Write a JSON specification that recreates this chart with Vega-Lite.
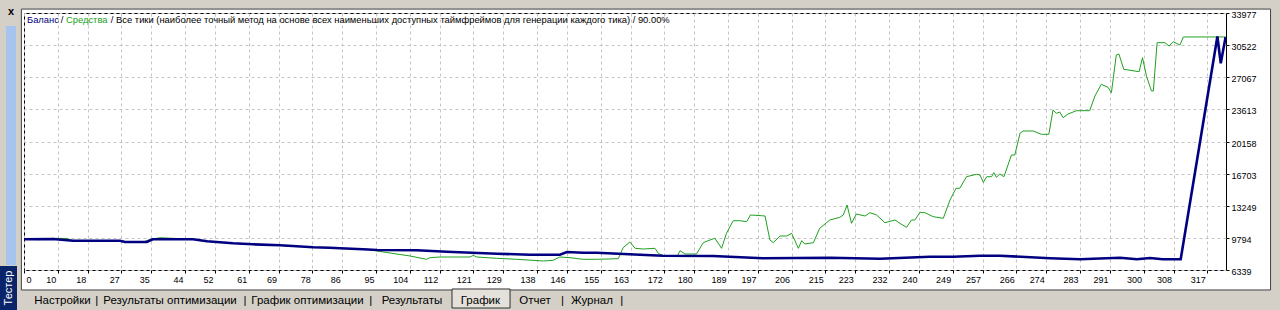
{
  "$schema": "https://vega.github.io/schema/vega-lite/v6.json",
  "width": 1202,
  "height": 257,
  "autosize": "none",
  "padding": {"left": 24, "top": 13, "right": 54, "bottom": 40},
  "background": "white",
  "config": {
    "view": {"stroke": "black", "strokeWidth": 1, "fill": "white"},
    "axis": {
      "labelFont": "Liberation Sans",
      "labelFontSize": 9,
      "labelColor": "black",
      "tickColor": "black",
      "tickSize": 3,
      "domain": false,
      "grid": true,
      "gridColor": "#c4c4c4",
      "gridDash": [3, 3],
      "title": null,
      "labelOverlap": false
    },
    "text": {"font": "Liberation Sans"}
  },
  "datasets": {
    "balance": [
      {"trade": 1, "value": 9640}, {"trade": 8.7, "value": 9673}, {"trade": 14.1, "value": 9490}, {"trade": 26.6, "value": 9490},
      {"trade": 28, "value": 9350}, {"trade": 33.8, "value": 9350}, {"trade": 35.4, "value": 9640}, {"trade": 46.1, "value": 9640},
      {"trade": 49.9, "value": 9425}, {"trade": 56.8, "value": 9210}, {"trade": 62.1, "value": 9103}, {"trade": 69.4, "value": 8995},
      {"trade": 78.2, "value": 8780}, {"trade": 82.7, "value": 8737}, {"trade": 85.4, "value": 8673}, {"trade": 91.5, "value": 8565},
      {"trade": 95.3, "value": 8490}, {"trade": 105.9, "value": 8458}, {"trade": 113.9, "value": 8307}, {"trade": 127.3, "value": 8092},
      {"trade": 136.1, "value": 7984}, {"trade": 144.1, "value": 7984}, {"trade": 146, "value": 8275}, {"trade": 150.3, "value": 8200},
      {"trade": 154, "value": 8200}, {"trade": 165.5, "value": 7984}, {"trade": 171.6, "value": 7877}, {"trade": 185, "value": 7845},
      {"trade": 198.3, "value": 7597}, {"trade": 207.4, "value": 7630}, {"trade": 216.2, "value": 7662}, {"trade": 229.6, "value": 7554},
      {"trade": 242.9, "value": 7769}, {"trade": 249.1, "value": 7769}, {"trade": 256.3, "value": 7877}, {"trade": 261.6, "value": 7877},
      {"trade": 275, "value": 7597}, {"trade": 283, "value": 7490}, {"trade": 293.7, "value": 7662}, {"trade": 298.2, "value": 7490},
      {"trade": 301.7, "value": 7630}, {"trade": 305.1, "value": 7490}, {"trade": 309.9, "value": 7490}, {"trade": 319.7, "value": 31450},
      {"trade": 320.6, "value": 28570}, {"trade": 321.9, "value": 31400}
    ],
    "equity": [
      {"trade": 1, "value": 9640}, {"trade": 5.3, "value": 9600}, {"trade": 8.7, "value": 9748}, {"trade": 12.5, "value": 9726},
      {"trade": 14.1, "value": 9490}, {"trade": 26.6, "value": 9490}, {"trade": 28, "value": 9350}, {"trade": 32.8, "value": 9350},
      {"trade": 34.6, "value": 9619}, {"trade": 37.3, "value": 9812}, {"trade": 46.1, "value": 9640}, {"trade": 49.9, "value": 9425},
      {"trade": 56.8, "value": 9210}, {"trade": 62.1, "value": 9103}, {"trade": 69.4, "value": 8995}, {"trade": 70.7, "value": 8920},
      {"trade": 73.4, "value": 8920}, {"trade": 78.2, "value": 8780}, {"trade": 85.4, "value": 8673}, {"trade": 93.4, "value": 8544},
      {"trade": 95.2, "value": 8383}, {"trade": 104.1, "value": 7845}, {"trade": 108.5, "value": 7490}, {"trade": 109.4, "value": 7662},
      {"trade": 112.1, "value": 7737}, {"trade": 120.1, "value": 7737}, {"trade": 121, "value": 7920}, {"trade": 121.9, "value": 7737},
      {"trade": 127.2, "value": 7597}, {"trade": 132.6, "value": 7490}, {"trade": 139.7, "value": 7307}, {"trade": 142.3, "value": 7382},
      {"trade": 144.1, "value": 7737}, {"trade": 146.8, "value": 7662}, {"trade": 150.3, "value": 7490}, {"trade": 153.9, "value": 7490},
      {"trade": 159.7, "value": 7554}, {"trade": 161, "value": 8737}, {"trade": 162.8, "value": 9350}, {"trade": 164.2, "value": 8673},
      {"trade": 166.4, "value": 8597}, {"trade": 169.5, "value": 8673}, {"trade": 170.4, "value": 8135}, {"trade": 171.6, "value": 7877},
      {"trade": 173.5, "value": 7898}, {"trade": 175.4, "value": 7790}, {"trade": 176.2, "value": 8415}, {"trade": 177.5, "value": 8060},
      {"trade": 180.6, "value": 8060}, {"trade": 182.4, "value": 9275}, {"trade": 184.2, "value": 9565}, {"trade": 185.5, "value": 9748},
      {"trade": 187.3, "value": 8673}, {"trade": 188.6, "value": 10286}, {"trade": 190.4, "value": 11641}, {"trade": 192.2, "value": 11641},
      {"trade": 194, "value": 11533}, {"trade": 195, "value": 12254}, {"trade": 198, "value": 12178}, {"trade": 198.9, "value": 12146},
      {"trade": 200.2, "value": 9565}, {"trade": 201.1, "value": 9275}, {"trade": 202.9, "value": 9995}, {"trade": 204.7, "value": 9995},
      {"trade": 206, "value": 10286}, {"trade": 207.8, "value": 8673}, {"trade": 208.7, "value": 9490}, {"trade": 209.5, "value": 9135},
      {"trade": 211.8, "value": 9275}, {"trade": 213.5, "value": 10823}, {"trade": 216.2, "value": 11716}, {"trade": 218.9, "value": 12006},
      {"trade": 219.8, "value": 12254}, {"trade": 220.8, "value": 13329}, {"trade": 222, "value": 11361}, {"trade": 223.3, "value": 12361},
      {"trade": 225.6, "value": 12146}, {"trade": 226.9, "value": 12501}, {"trade": 228.7, "value": 12254}, {"trade": 230.9, "value": 11426},
      {"trade": 233.6, "value": 11716}, {"trade": 234.9, "value": 11361}, {"trade": 236.7, "value": 10931}, {"trade": 238, "value": 11716},
      {"trade": 238.9, "value": 11716}, {"trade": 240.3, "value": 12544}, {"trade": 241.6, "value": 12501}, {"trade": 243.8, "value": 12071},
      {"trade": 246.5, "value": 11899}, {"trade": 248.3, "value": 13867}, {"trade": 249.9, "value": 15125}, {"trade": 250.9, "value": 15125},
      {"trade": 252.7, "value": 16373}, {"trade": 255.4, "value": 16630}, {"trade": 256.3, "value": 16555}, {"trade": 257.2, "value": 15770},
      {"trade": 258.1, "value": 16373}, {"trade": 259.4, "value": 16373}, {"trade": 260, "value": 16803}, {"trade": 260.7, "value": 16308},
      {"trade": 261.6, "value": 16663}, {"trade": 262.7, "value": 16373}, {"trade": 264.7, "value": 18706}, {"trade": 265.6, "value": 18706},
      {"trade": 267, "value": 21040}, {"trade": 267.8, "value": 21287}, {"trade": 270.5, "value": 21287}, {"trade": 272.7, "value": 20932},
      {"trade": 274.7, "value": 20932}, {"trade": 275.8, "value": 23545}, {"trade": 276.7, "value": 23190}, {"trade": 277.6, "value": 23330},
      {"trade": 278.5, "value": 22717}, {"trade": 279.8, "value": 23115}, {"trade": 282.1, "value": 23470}, {"trade": 285.6, "value": 23470},
      {"trade": 287, "value": 25051}, {"trade": 288.7, "value": 26309}, {"trade": 290.5, "value": 25987}, {"trade": 291.4, "value": 25406},
      {"trade": 292.7, "value": 29460}, {"trade": 293.4, "value": 29568}, {"trade": 294.7, "value": 27922}, {"trade": 298.8, "value": 27664},
      {"trade": 299.7, "value": 29170}, {"trade": 300.8, "value": 27126}, {"trade": 302.1, "value": 25589}, {"trade": 302.6, "value": 25589},
      {"trade": 303.6, "value": 30783}, {"trade": 305.7, "value": 30783}, {"trade": 306.8, "value": 30428}, {"trade": 307.9, "value": 30890},
      {"trade": 309.7, "value": 30535}, {"trade": 310.6, "value": 31400}, {"trade": 321.9, "value": 31400}
    ]
  },
  "encoding": {
    "x": {
      "type": "quantitative",
      "scale": {"domain": [1, 322], "nice": false, "zero": false},
      "axis": {
        "orient": "bottom",
        "values": [1, 10, 18, 27, 35, 44, 52, 61, 69, 78, 86, 95, 104, 112, 121, 129, 138, 146, 155, 163, 172, 180, 189, 197, 206, 215, 223, 232, 240, 249, 257, 266, 274, 283, 291, 300, 308, 317],
        "labelExpr": "datum.value == 1 ? '0' : format(datum.value, 'd')",
        "labelFlush": false,
        "labelAlign": {"condition": {"test": "datum.value == 1", "value": "left"}, "value": "right"},
        "labelOffset": {"condition": {"test": "datum.value == 1", "value": 2}, "value": -2},
        "labelBaseline": "top",
        "labelPadding": 2
      }
    },
    "y": {
      "type": "quantitative",
      "scale": {"domain": [6339, 33977], "nice": false, "zero": false},
      "axis": {
        "orient": "right",
        "values": [6339, 9794, 13249, 16703, 20158, 23613, 27067, 30522, 33977],
        "format": "d",
        "labelAlign": "left",
        "labelBaseline": "middle",
        "labelOffset": 1.5,
        "labelPadding": 2,
        "labelFlush": false
      }
    }
  },
  "layer": [
    {
      "data": {"name": "equity"},
      "mark": {"type": "line", "color": "#20a020", "strokeWidth": 1, "clip": true},
      "encoding": {"x": {"field": "trade", "type": "quantitative"}, "y": {"field": "value", "type": "quantitative"}}
    },
    {
      "data": {"name": "balance"},
      "mark": {"type": "line", "color": "#000080", "strokeWidth": 2.6, "clip": true},
      "encoding": {"x": {"field": "trade", "type": "quantitative"}, "y": {"field": "value", "type": "quantitative"}}
    },
    {
      "data": {"values": [{}]},
      "mark": {"type": "text", "text": "Баланс", "color": "#000080", "fontSize": 9.4, "align": "left", "baseline": "middle"},
      "encoding": {"x": {"datum": 1.8}, "y": {"datum": 33224}}
    },
    {
      "data": {"values": [{}]},
      "mark": {"type": "text", "text": "/", "color": "black", "fontSize": 9.4, "align": "left", "baseline": "middle"},
      "encoding": {"x": {"datum": 10.8}, "y": {"datum": 33224}}
    },
    {
      "data": {"values": [{}]},
      "mark": {"type": "text", "text": "Средства", "color": "#20a020", "fontSize": 9.4, "align": "left", "baseline": "middle"},
      "encoding": {"x": {"datum": 12.2}, "y": {"datum": 33224}}
    },
    {
      "data": {"values": [{}]},
      "mark": {"type": "text", "text": "/ Все тики (наиболее точный метод на основе всех наименьших доступных таймфреймов для генерации каждого тика) / 90.00%", "color": "black", "fontSize": 9.4, "align": "left", "baseline": "middle"},
      "encoding": {"x": {"datum": 24.2}, "y": {"datum": 33224}}
    },
    {
      "data": {"values": [{}]},
      "mark": {"type": "rect", "color": "#d4d0c8"},
      "encoding": {"x": {"datum": -10}, "x2": {"datum": 345}, "y": {"datum": 36500}, "y2": {"datum": 34420}}
    },
    {
      "data": {"values": [{}]},
      "mark": {"type": "rect", "color": "#d4d0c8"},
      "encoding": {"x": {"datum": -10}, "x2": {"datum": 345}, "y": {"datum": 4188}, "y2": {"datum": 1000}}
    },
    {
      "data": {"values": [{}]},
      "mark": {"type": "rect", "color": "#d4d0c8"},
      "encoding": {"x": {"datum": -10}, "x2": {"datum": 0.2}, "y": {"datum": 36500}, "y2": {"datum": 1000}}
    },
    {
      "data": {"values": [{}]},
      "mark": {"type": "rect", "color": "#d4d0c8"},
      "encoding": {"x": {"datum": 334}, "x2": {"datum": 345}, "y": {"datum": 36500}, "y2": {"datum": 1000}}
    },
    {
      "data": {"values": [{}]},
      "mark": {"type": "rect", "fill": null, "stroke": "#404040", "strokeWidth": 1},
      "encoding": {"x": {"datum": 0.3}, "x2": {"datum": 333.9}, "y": {"datum": 34400}, "y2": {"datum": 4190}}
    },
    {
      "data": {"values": [{}]},
      "mark": {"type": "rect", "color": "#a6c4ee"},
      "encoding": {"x": {"datum": -3.8}, "x2": {"datum": -1.14}, "y": {"datum": 32578}, "y2": {"datum": 6877}}
    },
    {
      "data": {"values": [{}]},
      "mark": {"type": "rect", "color": "#0a246a"},
      "encoding": {"x": {"datum": -10}, "x2": {"datum": -0.87}, "y": {"datum": 6769}, "y2": {"datum": 1000}}
    },
    {
      "data": {"values": [{}]},
      "mark": {"type": "text", "text": "Тестер", "color": "white", "fontSize": 11, "angle": 270, "align": "center", "baseline": "middle"},
      "encoding": {"x": {"datum": -3.0}, "y": {"datum": 4403}}
    },
    {
      "data": {"values": [{}]},
      "mark": {"type": "text", "text": "x", "color": "black", "fontSize": 11, "fontWeight": "bold", "align": "center", "baseline": "middle"},
      "encoding": {"x": {"datum": -2.47}, "y": {"datum": 34084}}
    },
    {
      "data": {"values": [{}]},
      "mark": {"type": "rect", "fill": "#e4e1da", "stroke": "#303030", "strokeWidth": 1},
      "encoding": {"x": {"datum": 115.3}, "x2": {"datum": 130.8}, "y": {"datum": 4296}, "y2": {"datum": 2252}}
    },
    {
      "data": {"values": [{}]},
      "mark": {"type": "text", "text": "Настройки", "color": "black", "fontSize": 11.5, "align": "center", "baseline": "middle"},
      "encoding": {"x": {"datum": 11.28}, "y": {"datum": 3059}}
    },
    {
      "data": {"values": [{}]},
      "mark": {"type": "text", "text": "|", "color": "black", "fontSize": 11.5, "align": "center", "baseline": "middle"},
      "encoding": {"x": {"datum": 20.41}, "y": {"datum": 3059}}
    },
    {
      "data": {"values": [{}]},
      "mark": {"type": "text", "text": "Результаты оптимизации", "color": "black", "fontSize": 11.5, "align": "center", "baseline": "middle"},
      "encoding": {"x": {"datum": 39.99}, "y": {"datum": 3059}}
    },
    {
      "data": {"values": [{}]},
      "mark": {"type": "text", "text": "|", "color": "black", "fontSize": 11.5, "align": "center", "baseline": "middle"},
      "encoding": {"x": {"datum": 60.01}, "y": {"datum": 3059}}
    },
    {
      "data": {"values": [{}]},
      "mark": {"type": "text", "text": "График оптимизации", "color": "black", "fontSize": 11.5, "align": "center", "baseline": "middle"},
      "encoding": {"x": {"datum": 76.7}, "y": {"datum": 3059}}
    },
    {
      "data": {"values": [{}]},
      "mark": {"type": "text", "text": "|", "color": "black", "fontSize": 11.5, "align": "center", "baseline": "middle"},
      "encoding": {"x": {"datum": 93.58}, "y": {"datum": 3059}}
    },
    {
      "data": {"values": [{}]},
      "mark": {"type": "text", "text": "Результаты", "color": "black", "fontSize": 11.5, "align": "center", "baseline": "middle"},
      "encoding": {"x": {"datum": 104.6}, "y": {"datum": 3059}}
    },
    {
      "data": {"values": [{}]},
      "mark": {"type": "text", "text": "График", "color": "black", "fontSize": 11.5, "align": "center", "baseline": "middle"},
      "encoding": {"x": {"datum": 122.89}, "y": {"datum": 3059}}
    },
    {
      "data": {"values": [{}]},
      "mark": {"type": "text", "text": "Отчет", "color": "black", "fontSize": 11.5, "align": "center", "baseline": "middle"},
      "encoding": {"x": {"datum": 137.45}, "y": {"datum": 3059}}
    },
    {
      "data": {"values": [{}]},
      "mark": {"type": "text", "text": "|", "color": "black", "fontSize": 11.5, "align": "center", "baseline": "middle"},
      "encoding": {"x": {"datum": 144.84}, "y": {"datum": 3059}}
    },
    {
      "data": {"values": [{}]},
      "mark": {"type": "text", "text": "Журнал", "color": "black", "fontSize": 11.5, "align": "center", "baseline": "middle"},
      "encoding": {"x": {"datum": 152.67}, "y": {"datum": 3059}}
    },
    {
      "data": {"values": [{}]},
      "mark": {"type": "text", "text": "|", "color": "black", "fontSize": 11.5, "align": "center", "baseline": "middle"},
      "encoding": {"x": {"datum": 160.6}, "y": {"datum": 3059}}
    }
  ]
}
